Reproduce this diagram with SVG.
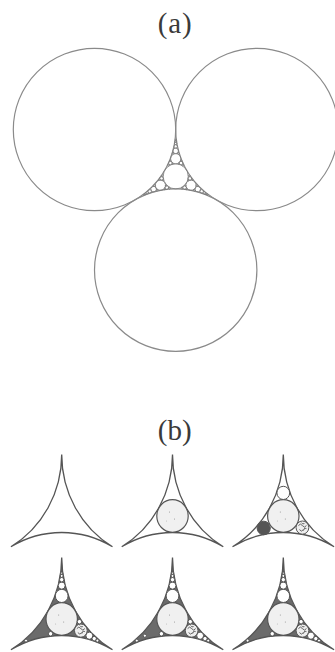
<svg xmlns="http://www.w3.org/2000/svg" xmlns:xlink="http://www.w3.org/1999/xlink" width="335" height="652" viewBox="0 0 335 652">
<style>
.lbl{font-family:"Liberation Serif","DejaVu Serif",serif;font-size:29px;fill:#3a3a3a;text-anchor:middle}
.a-line{fill:none;stroke:#8a8a8a;stroke-width:1.2}
.g-line{fill:none;stroke:#7a7a7a;stroke-width:0.8}
.outline{fill:none;stroke:#555;stroke-width:1.3}
.filled{fill:#6b6b6b;stroke:#555;stroke-width:1.3}
.inner{fill:#f0f0f0;stroke:#555;stroke-width:1.2}
.wc{fill:#fff;stroke:#555;stroke-width:1}
.dc{fill:#555;stroke:#555;stroke-width:1}
.pc{fill:#eee;stroke:#555;stroke-width:1}
.sq{fill:none;stroke:#555;stroke-width:0.9}
.dot{fill:#888}
</style>
<defs>
<path id="tri" d="M0,-61.5 A101.6,106.5 0 0 1 -50.8,30.75 A101.6,106.5 0 0 1 50.8,30.75 A101.6,106.5 0 0 1 0,-61.5Z"/>
<g id="inner-c">
<ellipse cx="0" cy="0" rx="15.72" ry="16.3" class="inner"/>
<circle cx="-3" cy="-4" r="0.5" class="dot"/><circle cx="2" cy="3" r="0.5" class="dot"/><circle cx="-6" cy="5" r="0.4" class="dot"/>
</g>
<g id="pat-c">
<ellipse cx="0" cy="0" rx="6.38" ry="6.6" class="pc"/>
<path class="sq" d="M-4,-2 q2,-3 4,0 t4,0 M-3,2 q2,3 4,0 M1,3 q1,-4 3,-2 M-1,-5 q1,2 3,1"/>
</g>
</defs>

<text class="lbl" x="174.7" y="33" textLength="34" lengthAdjust="spacing">(a)</text>
<text class="lbl" x="174.7" y="440" textLength="34" lengthAdjust="spacing">(b)</text>

<g id="circle-left"><circle cx="94.5" cy="129.5" r="81.2" class="a-line"/></g>
<g id="circle-right"><circle cx="256.9" cy="129.5" r="81.2" class="a-line"/></g>
<g id="circle-bottom"><circle cx="175.7" cy="270.1" r="81.2" class="a-line"/></g>

<g id="gasket">
<circle cx="175.7" cy="176.4" r="12.56" class="g-line"/>
<g id="gasket-third">
<circle cx="175.7" cy="158.74" r="5.10" class="g-line"/>
<circle cx="175.7" cy="150.88" r="2.763" class="g-line"/>
<circle cx="175.7" cy="146.385" r="1.733" class="g-line"/>
<circle cx="175.7" cy="143.463" r="1.189" class="g-line"/>
<circle cx="175.7" cy="141.418" r="0.857" class="g-line"/>
<circle cx="175.7" cy="139.913" r="0.648" class="g-line"/>
<circle cx="170.379" cy="163.089" r="1.773" class="g-line"/>
<circle cx="181.021" cy="163.089" r="1.773" class="g-line"/>
<circle cx="173.041" cy="153.38" r="0.886" class="g-line"/>
<circle cx="178.359" cy="153.38" r="0.886" class="g-line"/>
<circle cx="168.528" cy="165.013" r="0.897" class="g-line"/>
<circle cx="182.872" cy="165.013" r="0.897" class="g-line"/>
<circle cx="172.7" cy="163.585" r="0.6" class="g-line"/>
<circle cx="178.7" cy="163.585" r="0.6" class="g-line"/>
<circle cx="170.239" cy="160.637" r="0.683" class="g-line"/>
<circle cx="181.161" cy="160.637" r="0.683" class="g-line"/>
</g>
<use xlink:href="#gasket-third" transform="rotate(120 175.7 176.4)"/>
<use xlink:href="#gasket-third" transform="rotate(240 175.7 176.4)"/>
</g>

<g id="panel-1" transform="translate(61.7,516)">
<use xlink:href="#tri" class="outline"/>
</g>

<g id="panel-2" transform="translate(172.5,516)">
<use xlink:href="#tri" class="outline"/>
<use xlink:href="#inner-c"/>
</g>

<g id="panel-3" transform="translate(283.3,516)">
<use xlink:href="#tri" class="outline"/>
<use xlink:href="#inner-c"/>
<ellipse cx="0" cy="-23.1" rx="6.38" ry="6.6" class="wc"/>
<ellipse cx="-19.6" cy="12" rx="6.6" ry="6.8" class="dc"/>
<use xlink:href="#pat-c" transform="translate(19.135,11.6)"/>
</g>

<g id="panel-4" transform="translate(61.7,619)">
<use xlink:href="#tri" class="filled"/>
<use xlink:href="#inner-c"/>
<ellipse cx="0" cy="-23.1" rx="6.38" ry="6.6" class="wc"/>
<ellipse cx="0" cy="-33.4" rx="3.457" ry="3.6" class="wc"/>
<ellipse cx="0" cy="-39.3" rx="2.168" ry="2.25" class="wc"/>
<ellipse cx="0" cy="-43.1" rx="1.487" ry="1.55" class="wc"/>
<ellipse cx="0" cy="-45.8" rx="1.072" ry="1.1" class="wc"/>
<use xlink:href="#pat-c" transform="translate(19.135,11.6)"/>
<ellipse cx="27.652" cy="16.7" rx="3.457" ry="3.6" class="wc"/>
<ellipse cx="32.524" cy="19.65" rx="2.168" ry="2.25" class="wc"/>
<ellipse cx="35.69" cy="21.6" rx="1.487" ry="1.55" class="wc"/>
<ellipse cx="17.753" cy="2.7" rx="2.219" ry="2.3" class="wc"/>
<ellipse cx="-11.095" cy="14.8" rx="2.219" ry="2.3" class="wc"/>
<ellipse cx="-35.69" cy="21.6" rx="1.487" ry="1.55" class="wc"/>
</g>

<g id="panel-5" transform="translate(172.5,619)">
<use xlink:href="#tri" class="filled"/>
<use xlink:href="#inner-c"/>
<ellipse cx="0" cy="-23.1" rx="6.38" ry="6.6" class="wc"/>
<ellipse cx="0" cy="-33.4" rx="3.457" ry="3.6" class="wc"/>
<ellipse cx="0" cy="-39.3" rx="2.168" ry="2.25" class="wc"/>
<ellipse cx="0" cy="-43.1" rx="1.487" ry="1.55" class="wc"/>
<ellipse cx="0" cy="-45.8" rx="1.072" ry="1.1" class="wc"/>
<use xlink:href="#pat-c" transform="translate(19.135,11.6)"/>
<ellipse cx="27.652" cy="16.7" rx="3.457" ry="3.6" class="wc"/>
<ellipse cx="32.524" cy="19.65" rx="2.168" ry="2.25" class="wc"/>
<ellipse cx="35.69" cy="21.6" rx="1.487" ry="1.55" class="wc"/>
<ellipse cx="17.753" cy="2.7" rx="2.219" ry="2.3" class="wc"/>
<ellipse cx="-11.095" cy="14.8" rx="2.219" ry="2.3" class="wc"/>
<ellipse cx="-27.652" cy="16.7" rx="1.6" ry="1.6" class="wc"/>
<ellipse cx="-35.69" cy="21.6" rx="1.487" ry="1.55" class="wc"/>
</g>

<g id="panel-6" transform="translate(283.3,619)">
<use xlink:href="#tri" class="filled"/>
<use xlink:href="#inner-c"/>
<ellipse cx="0" cy="-23.1" rx="6.38" ry="6.6" class="wc"/>
<ellipse cx="0" cy="-33.4" rx="3.457" ry="3.6" class="wc"/>
<ellipse cx="0" cy="-39.3" rx="2.168" ry="2.25" class="wc"/>
<ellipse cx="0" cy="-43.1" rx="1.487" ry="1.55" class="wc"/>
<ellipse cx="0" cy="-45.8" rx="1.072" ry="1.1" class="wc"/>
<use xlink:href="#pat-c" transform="translate(19.135,11.6)"/>
<ellipse cx="27.652" cy="16.7" rx="3.457" ry="3.6" class="wc"/>
<ellipse cx="32.524" cy="19.65" rx="2.168" ry="2.25" class="wc"/>
<ellipse cx="35.69" cy="21.6" rx="1.487" ry="1.55" class="wc"/>
<ellipse cx="17.753" cy="2.7" rx="2.219" ry="2.3" class="wc"/>
<ellipse cx="-11.095" cy="14.8" rx="2.219" ry="2.3" class="wc"/>
<ellipse cx="-35.69" cy="21.6" rx="1.487" ry="1.55" class="wc"/>
</g>
</svg>
